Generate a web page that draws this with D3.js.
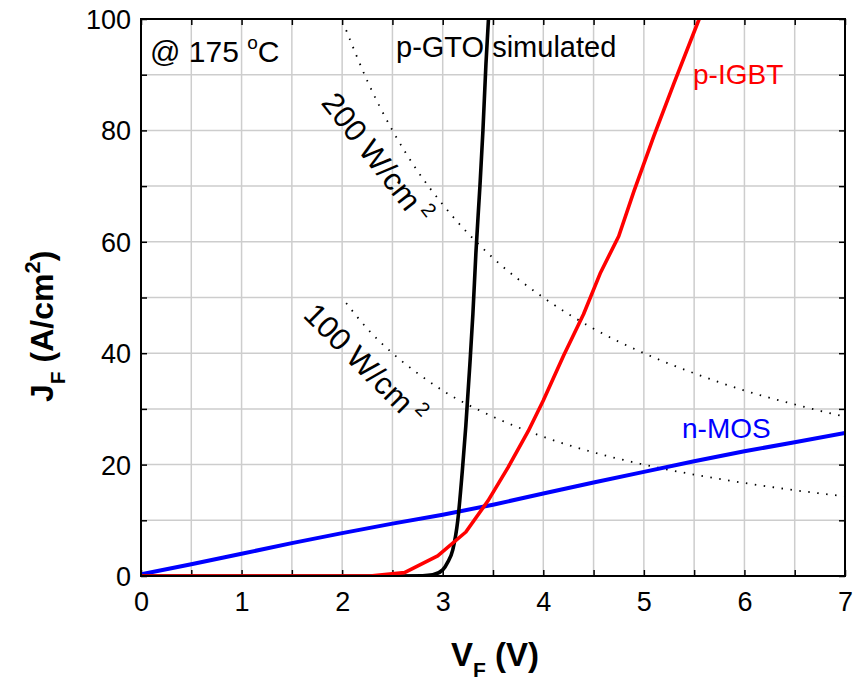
<!DOCTYPE html>
<html>
<head>
<meta charset="utf-8">
<script src="https://cdn.jsdelivr.net/npm/d3@7"></script>
<style>
  html, body { margin: 0; padding: 0; background: #fff; }
  svg { display: block; font-family: "Liberation Sans", Arial, Helvetica, sans-serif; }
</style>
</head>
<body>
<svg id="chart" width="863" height="683"></svg>
<script>
// Forward characteristics at 175 °C
const vMos  = [0, 0.5, 1, 1.5, 2, 2.5, 3, 3.5, 4, 4.5, 5, 5.5, 6, 6.5, 7];
const jMos  = [0.3, 2.1, 4.0, 5.9, 7.7, 9.4, 11.0, 12.8, 14.8, 16.8, 18.7, 20.6, 22.4, 24.0, 25.7];

const vIgbt = [0, 1, 2, 2.3, 2.62, 2.95, 3.23, 3.45, 3.65, 3.85, 4.0, 4.2, 4.4, 4.57, 4.75, 4.9, 5.1, 5.3, 5.55];
const jIgbt = [0, 0, 0, 0.05, 0.6, 3.6, 7.9, 13.5, 19.5, 26, 31.5, 39.5, 47, 54.5, 61, 69, 79, 88.5, 100];

const vGto  = [0, 2.5, 2.8, 2.9, 3.0, 3.05, 3.1, 3.15, 3.2, 3.23, 3.27, 3.3, 3.33, 3.37, 3.4, 3.43, 3.455];
const jGto  = [0, 0, 0.05, 0.2, 1.1, 2.5, 4.7, 10, 20, 27, 38, 47, 58, 70, 80, 92, 100];

// Constant power-dissipation contours
const vPow  = [2.04, 2.25, 2.5, 2.75, 3, 3.5, 4, 4.5, 5, 5.5, 6, 6.5, 7];
const jP200 = [98, 88.9, 80, 72.7, 66.7, 57.1, 50, 44.4, 40, 36.4, 33.3, 30.8, 28.6];
const jP100 = [49, 44.4, 40, 36.4, 33.3, 28.6, 25, 22.2, 20, 18.2, 16.7, 15.4, 14.3];

const xTickLabels = [0, 1, 2, 3, 4, 5, 6, 7];
const yTickLabels = [0, 20, 40, 60, 80, 100];
const xGrid = [0.5, 1, 1.5, 2, 2.5, 3, 3.5, 4, 4.5, 5, 5.5, 6, 6.5];
const yGrid = [10, 20, 30, 40, 50, 60, 70, 80, 90];

const svg = d3.select("#chart");
const pLeft = 141, pRight = 845, pTop = 19, pBottom = 576;

const x = d3.scaleLinear().domain([0, 7]).range([pLeft, pRight]);
const y = d3.scaleLinear().domain([0, 100]).range([pBottom, pTop]);

// grid
const grid = svg.append("g").attr("stroke", "#cdcdcd").attr("stroke-width", 1.5);
grid.selectAll("line.v").data(xGrid).join("line")
  .attr("x1", d => x(d)).attr("x2", d => x(d))
  .attr("y1", pTop).attr("y2", pBottom);
grid.selectAll("line.h").data(yGrid).join("line")
  .attr("y1", d => y(d)).attr("y2", d => y(d))
  .attr("x1", pLeft).attr("x2", pRight);

// inward tick marks on all four sides
const allX = d3.range(0, 7.01, 0.5);
const allY = d3.range(0, 100.1, 10);
const tickLen = 6;
function ticksOnly(axis) {
  return g => {
    g.call(axis);
    g.select(".domain").remove();
    g.selectAll("text").remove();
    g.selectAll("line").attr("stroke", "#000").attr("stroke-width", 1.5);
  };
}
svg.append("g").attr("transform", `translate(0,${pBottom})`)
  .call(ticksOnly(d3.axisBottom(x).tickValues(allX).tickSizeInner(-tickLen).tickSizeOuter(0)));
svg.append("g").attr("transform", `translate(0,${pTop})`)
  .call(ticksOnly(d3.axisTop(x).tickValues(allX).tickSizeInner(-tickLen).tickSizeOuter(0)));
svg.append("g").attr("transform", `translate(${pLeft},0)`)
  .call(ticksOnly(d3.axisLeft(y).tickValues(allY).tickSizeInner(-tickLen).tickSizeOuter(0)));
svg.append("g").attr("transform", `translate(${pRight},0)`)
  .call(ticksOnly(d3.axisRight(y).tickValues(allY).tickSizeInner(-tickLen).tickSizeOuter(0)));

// tick labels
svg.append("g").attr("transform", `translate(0,${pBottom})`)
  .call(d3.axisBottom(x).tickValues(xTickLabels).tickSize(0).tickPadding(0).tickFormat(d3.format("d")))
  .call(g => g.select(".domain").remove())
  .selectAll("text").attr("font-size", 27).attr("fill", "#000")
  .attr("font-family", "Liberation Sans, Arial, sans-serif")
  .attr("dy", null).attr("y", 35);
svg.append("g").attr("transform", `translate(${pLeft},0)`)
  .call(d3.axisLeft(y).tickValues(yTickLabels).tickSize(0).tickPadding(0).tickFormat(d3.format("d")))
  .call(g => g.select(".domain").remove())
  .selectAll("text").attr("font-size", 27).attr("fill", "#000")
  .attr("font-family", "Liberation Sans, Arial, sans-serif")
  .attr("x", -10).attr("dy", "0.35em");

// power contours
const pLine = d3.line().x(d => x(d[0])).y(d => y(d[1])).curve(d3.curveMonotoneX);
[jP200, jP100].forEach(js => {
  svg.append("path")
    .attr("d", pLine(vPow.map((v, i) => [v, js[i]])))
    .attr("fill", "none").attr("stroke", "#000")
    .attr("stroke-width", 1.8).attr("stroke-dasharray", "1.5,7.5")
    .attr("stroke-linecap", "butt");
});

// annotation texts
const ann = svg.append("g").attr("font-size", 29).attr("fill", "#000");
const temp = ann.append("text").attr("x", 150).attr("y", 62).attr("font-size", 30);
temp.append("tspan").text("@ 175 ");
temp.append("tspan").attr("font-size", 19).attr("dy", -13).text("o");
temp.append("tspan").attr("dy", 13).text("C");

ann.append("text").attr("x", 396).attr("y", 57).text("p-GTO simulated");

function powerLabel(cx, cy, angle, txt) {
  const t = ann.append("text")
    .attr("transform", `translate(${cx},${cy}) rotate(${angle})`)
    .attr("text-anchor", "middle").attr("dy", "0.35em").attr("font-size", 31);
  t.append("tspan").text(txt);
  t.append("tspan").attr("font-size", 20).attr("dx", 6).attr("dy", -13).text("2");
}
powerLabel(377, 158, 52, "200 W/cm");
powerLabel(365, 364, 45, "100 W/cm");

svg.append("text").attr("x", 693).attr("y", 84).attr("font-size", 28)
  .attr("fill", "#ff0000").text("p-IGBT");
svg.append("text").attr("x", 682).attr("y", 438).attr("font-size", 28)
  .attr("fill", "#0000ff").text("n-MOS");

// curves
const smooth = d3.line().x(d => x(d[0])).y(d => y(d[1])).curve(d3.curveMonotoneX);
const straight = d3.line().x(d => x(d[0])).y(d => y(d[1]));
svg.append("clipPath").attr("id", "plotClip").append("rect")
  .attr("x", pLeft).attr("y", pTop - 2).attr("width", pRight - pLeft).attr("height", pBottom - pTop + 2);
const curves = svg.append("g").attr("clip-path", "url(#plotClip)");
curves.append("path").attr("d", straight(vMos.map((v, i) => [v, jMos[i]])))
  .attr("fill", "none").attr("stroke", "#0000ff").attr("stroke-width", 4)
  .attr("stroke-linejoin", "round");
curves.append("path").attr("d", smooth(vGto.map((v, i) => [v, jGto[i]])))
  .attr("fill", "none").attr("stroke", "#000").attr("stroke-width", 3.6);
curves.append("path").attr("d", straight(vIgbt.map((v, i) => [v, jIgbt[i]])))
  .attr("fill", "none").attr("stroke", "#ff0000").attr("stroke-width", 3.6)
  .attr("stroke-linejoin", "round");

// frame
svg.append("rect").attr("x", pLeft).attr("y", pTop)
  .attr("width", pRight - pLeft).attr("height", pBottom - pTop)
  .attr("fill", "none").attr("stroke", "#000").attr("stroke-width", 2);

// axis titles
const xt = svg.append("text").attr("x", 451).attr("y", 666)
  .attr("font-size", 33).attr("font-weight", "bold");
xt.append("tspan").text("V");
xt.append("tspan").attr("font-size", 21).attr("dy", 11).text("F");
xt.append("tspan").attr("dy", -11).text(" (V)");

const yt = svg.append("text").attr("transform", "translate(53,402) rotate(-90)")
  .attr("font-size", 32).attr("font-weight", "bold");
yt.append("tspan").text("J");
yt.append("tspan").attr("font-size", 21).attr("dy", 12).text("F");
yt.append("tspan").attr("dy", -12).text(" (A/cm");
yt.append("tspan").attr("font-size", 22).attr("dy", -13).text("2");
yt.append("tspan").attr("dy", 13).text(")");
</script>
</body>
</html>
